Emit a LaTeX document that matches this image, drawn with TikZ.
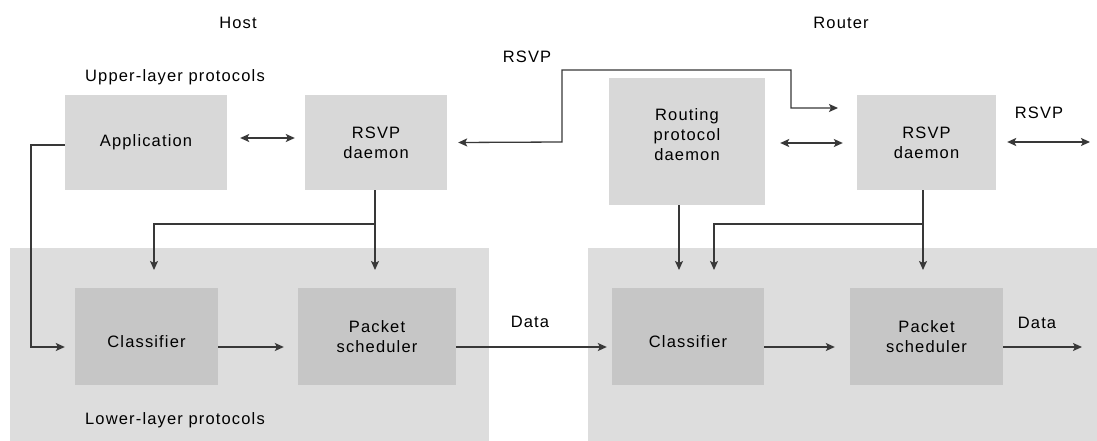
\documentclass[tikz,border=0pt]{standalone}
\usepackage{fontspec}
\setmainfont{Liberation Sans}[LetterSpace=7]
\usetikzlibrary{arrows.meta}
\definecolor{upbox}{HTML}{D8D8D8}
\definecolor{lowbg}{HTML}{DDDDDD}
\definecolor{inbox}{HTML}{C6C6C6}
\definecolor{ln}{HTML}{383838}
\begin{document}
\begin{tikzpicture}[x=1pt,y=-1pt,
  every node/.style={font=\fontsize{16.5}{20}\selectfont, inner sep=0pt},
  ubox/.style={fill=upbox, draw=none, align=center},
  ibox/.style={fill=inbox, draw=none, align=center},
  lbl/.style={text=black},
  conn/.style={draw=ln, line width=1.3pt},
  arr/.style={conn, -{Stealth[length=9pt,width=8pt,inset=2pt]}},
  darr/.style={conn, {Stealth[length=9pt,width=8pt,inset=2pt]}-{Stealth[length=9pt,width=8pt,inset=2pt]}}]
\useasboundingbox (0,0) rectangle (1097,441);
\fill[white] (0,0) rectangle (1097,441);

% lower-layer backgrounds
\fill[lowbg] (10,248) rectangle (489,441);
\fill[lowbg] (588,248) rectangle (1097,441);

% titles
\node[lbl] (host) at (238,23) {Host};
\node[lbl] (router) at (841,23) {Router};
\node[lbl] (rsvptop) at (527,57) {RSVP};
\node[lbl] (upper) at (175,77) {Upper-layer protocols};
\node[lbl] (lower) at (175,420) {Lower-layer protocols};
\node[lbl] (rsvpright) at (1039,113) {RSVP};
\node[lbl] (data1) at (530,322) {Data};
\node[lbl] (data2) at (1037,323) {Data};

% upper boxes
\node[ubox, minimum width=162pt, minimum height=95pt] (app) at (146,142.5) {Application};
\node[ubox, minimum width=142pt, minimum height=95pt] (hrsvp) at (376,142.5) {RSVP\\daemon};
\node[ubox, minimum width=156pt, minimum height=127pt,
      label={[name=routingtext, align=center, yshift=7pt]center:Routing\\protocol\\daemon}] (routing) at (687,141.5) {};
\node[ubox, minimum width=139pt, minimum height=95pt] (rrsvp) at (926.5,142.5) {RSVP\\daemon};

% inner lower boxes
\node[ibox, minimum width=143pt, minimum height=97pt] (clsL) at (146.5,336.5) {\raisebox{-5pt}[\height][\depth]{Classifier}};
\node[ibox, minimum width=158pt, minimum height=97pt] (schL) at (377,336.5) {Packet\\scheduler};
\node[ibox, minimum width=152pt, minimum height=97pt] (clsR) at (688,336.5) {\raisebox{-5pt}[\height][\depth]{Classifier}};
\node[ibox, minimum width=153pt, minimum height=97pt] (schR) at (926.5,336.5) {Packet\\scheduler};

% free ends
\coordinate (rsvpend) at (838,108);
\coordinate (rightend) at (1090,142);
\coordinate (hj) at (375,224);
\coordinate (hjL) at (154,270);
\coordinate (hjR) at (375,270);
\coordinate (rj) at (923,224);
\coordinate (rjL) at (714,270);
\coordinate (rjR) at (923,270);
\coordinate (rtop) at (679,205);
\coordinate (rtip) at (679,270);
\coordinate (dataout) at (1082,347);

% host connectors
\draw[darr] ([xshift=13pt,yshift=4.5pt]app.east) -- ([xshift=-10pt,yshift=4.5pt]hrsvp.west);
\draw[darr] ([xshift=11pt]hrsvp.east) -- (562,142) -- (562,70) -- (791,70) -- (791,108) -- (rsvpend);
\draw[arr] ([yshift=-2.5pt]app.west) -- (31,145) -- (31,347) -- ([xshift=-10pt,yshift=-10.5pt]clsL.west);
\draw[conn] ([xshift=-1pt]hrsvp.south) -- (hj);
\draw[arr] (hj) -- (hjR);
\draw[arr] (hj) -| (hjL);
\draw[arr] ([yshift=-10.5pt]clsL.east) -- ([xshift=-14pt,yshift=-10.5pt]schL.west);
\draw[arr] ([yshift=-10.5pt]schL.east) -- ([xshift=-5pt,yshift=-10.5pt]clsR.west);

% router connectors
\draw[darr] ([xshift=15pt,yshift=-1.5pt]routing.east) -- ([xshift=-14pt,yshift=-0.5pt]rrsvp.west);
\draw[darr] ([xshift=11pt,yshift=0.5pt]rrsvp.east) -- (rightend);
\draw[arr] (rtop) -- (rtip);
\draw[conn] ([xshift=-3.5pt]rrsvp.south) -- (rj);
\draw[arr] (rj) -- (rjR);
\draw[arr] (rj) -| (rjL);
\draw[arr] ([yshift=-10.5pt]clsR.east) -- ([xshift=-15pt,yshift=-10.5pt]schR.west);
\draw[arr] ([yshift=-10.5pt]schR.east) -- (dataout);
\end{tikzpicture}
\end{document}
